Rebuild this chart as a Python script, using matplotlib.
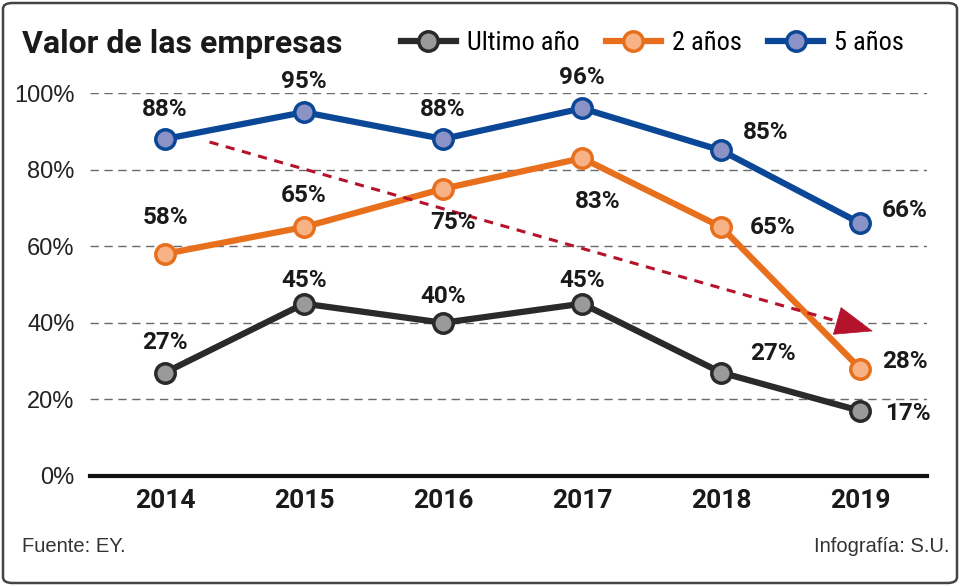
import matplotlib.pyplot as plt
from matplotlib import font_manager
from matplotlib.patches import FancyBboxPatch
from matplotlib.lines import Line2D

# Data
years = [2014, 2015, 2016, 2017, 2018, 2019]
ultimo = [27, 45, 40, 45, 27, 17]
dos = [58, 65, 75, 83, 65, 28]
cinco = [88, 95, 88, 96, 85, 66]
yticks = [0, 20, 40, 60, 80, 100]

# fonts: condensed face for the legend, Roboto bold for figures, Arial-like for ticks
have = {f.name for f in font_manager.fontManager.ttflist}
def pick(*names):
    return [n for n in names if n in have][:1] + ["DejaVu Sans"]
COND = pick("Roboto Condensed", "Liberation Sans Narrow", "Roboto")
BOLD = pick("Roboto", "Liberation Sans")
PLAIN = pick("Liberation Sans", "Roboto")
plt.rcParams["font.family"] = BOLD

fig = plt.figure(figsize=(9.6, 5.86), dpi=100)
ax = fig.add_axes([90 / 960, 1 - 476 / 586, 837 / 960, 383 / 586])

# border round the whole figure
fig.patches.append(
    FancyBboxPatch(
        (3 / 960, 3 / 586), 954 / 960, 580 / 586,
        boxstyle="round,pad=0,rounding_size=0.01",
        transform=fig.transFigure, fill=False, ec="#444444", lw=1.8,
    )
)

series = [
    (ultimo, "#2a2a2a", "#9a9a9a", "Ultimo año"),
    (dos, "#e86f1c", "#f7b385", "2 años"),
    (cinco, "#0b4797", "#8b92c6", "5 años"),
]
for vals, lc, fc, lab in series:
    ax.plot(years, vals, color=lc, lw=4.5, marker="o", ms=14,
            mfc=fc, mec=lc, mew=2.5, label=lab, zorder=3, clip_on=False)

# labels (offsets in points)
off = {
    "u": [(0, 22), (0, 17), (0, 19), (0, 17), (37, 14), (34, -2)],
    "d": [(0, 26), (0, 23), (7, -24), (11, -31), (37, 0), (32, 5)],
    "c": [(0, 21), (0, 22), (0, 21), (0, 22), (32, 13), (32, 9)],
}
for vals, key in [(ultimo, "u"), (dos, "d"), (cinco, "c")]:
    for x, v, (dx, dy) in zip(years, vals, off[key]):
        ax.annotate(f"{v}%", (x, v), xytext=(dx, dy), textcoords="offset points",
                    ha="center", va="center", fontsize=17.5, fontweight="bold",
                    color="#1a1a1a", zorder=5)

# trend arrow: dashed shaft plus solid head
ax.plot([2014.32, 2018.95], [87.2, 39.2], color="#b5132b", lw=2.2,
        ls=(0, (3, 2.5)), zorder=4)
ax.annotate("", xy=(2019.11, 37.6), xytext=(2018.9, 39.8),
            arrowprops=dict(arrowstyle="-|>,head_length=1.3,head_width=0.5",
                            mutation_scale=20, color="#b5132b", lw=0.5),
            zorder=4)

ax.set_xlim(2013.46, 2019.48)
ax.set_ylim(0, 100)
ax.set_yticks(yticks)
ax.set_yticklabels([f"{t}%" for t in yticks], family=PLAIN)
ax.set_xticks(years)
for t in yticks[1:]:
    ax.axhline(t, color="#6a6a6a", lw=1, ls=(0, (6, 4)), zorder=1)
for s in ["top", "right", "left"]:
    ax.spines[s].set_visible(False)
ax.spines["bottom"].set_linewidth(3)
ax.spines["bottom"].set_color("#111111")
ax.tick_params(axis="y", length=0, labelsize=17, pad=11, colors="#222222")
ax.tick_params(axis="x", length=0, labelsize=19, pad=9)
for lb in ax.get_xticklabels():
    lb.set_fontweight("bold")
    lb.set_color("#1a1a1a")

fig.text(22 / 960, 1 - 44 / 586, "Valor de las empresas", fontsize=23,
         fontweight="bold", va="center", ha="left", color="#1a1a1a")
handles = [Line2D([], [], color=lc, lw=4.5, marker="o", ms=14, mfc=fc, mec=lc, mew=2.5)
           for _, lc, fc, _ in series]
fig.legend(handles, [s[3] for s in series], loc="center right",
           bbox_to_anchor=(917 / 960, 1 - 43 / 586), ncol=3, frameon=False,
           prop=dict(family=COND, size=19), handlelength=2.1, handletextpad=0.4,
           columnspacing=1.0, borderpad=0)
fig.text(22 / 960, 1 - 546 / 586, "Fuente: EY.", fontsize=14.5, va="center",
         color="#333333", family=PLAIN)
fig.text(950 / 960, 1 - 546 / 586, "Infografía: S.U.", fontsize=14.5, va="center",
         ha="right", color="#333333", family=PLAIN)

fig.savefig("out.png", dpi=100)
